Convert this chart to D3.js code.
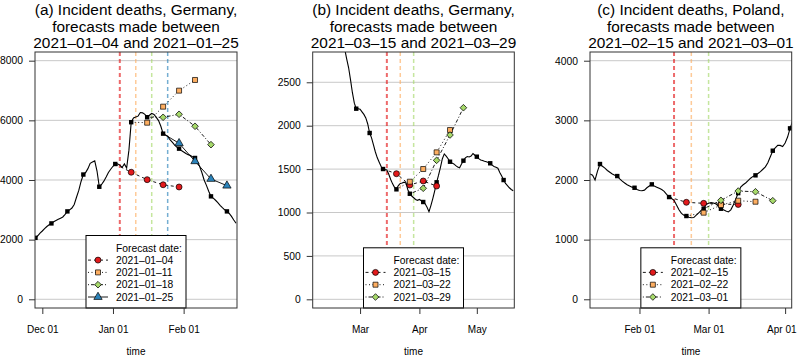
<!DOCTYPE html>
<html>
<head>
<meta charset="utf-8">
<script src="https://cdn.jsdelivr.net/npm/d3@7"></script>
<style>
  body { margin: 0; background: #fff; }
  svg { display: block; font-family: "Liberation Sans", Arial, sans-serif; }
</style>
</head>
<body>
<svg id="chart" width="798" height="356"></svg>
<script>
// ---- data ----
// observed incident deaths (weekly sums, daily resolution), one value per day from the start date

const startA = '2020-11-28';
const deathsA = [2060, 2130, 2220, 2290, 2370, 2440, 2500, 2544, 2600, 2640, 2680, 2720, 2760, 2850,
  2947, 3000, 3060, 3180, 3420, 3650, 3950, 4183, 4250, 4380, 4560, 4600, 4640, 4300,
  3773, 3850, 3960, 4100, 4250, 4360, 4460, 4536, 4540, 4500, 4420, 4540, 4400, 5000,
  5937, 6080, 6110, 6140, 6260, 6250, 6200, 6105, 6170, 6230, 6200, 6100, 5990, 5800,
  5554, 5510, 5470, 5350, 5270, 5180, 5100, 5050, 4990, 4940, 4890, 4850, 4820, 4770,
  4738, 4620, 4460, 4250, 4000, 3820, 3620, 3451, 3390, 3320, 3240, 3150, 3070, 3000,
  2947, 2880, 2780, 2660, 2550];
const forecastDatesA = ['2021-01-04', '2021-01-11', '2021-01-18', '2021-01-25'];
const fcA1 = [4260, 4010, 3840, 3765];
const fcA2 = [5921, 6458, 6995, 7353];
const fcA3 = [6102, 6203, 5801, 5184];
const fcA4 = [5231, 4627, 4034, 3809];

const startB = '2021-02-19';
const deathsB = [3150, 3060, 2880, 2770, 2670, 2530, 2380, 2260, 2196, 2196, 2190, 2160, 2130, 2090,
  2020, 1916, 1860, 1780, 1697, 1630, 1580, 1530, 1501, 1495, 1490, 1440, 1380, 1330,
  1290, 1267, 1310, 1335, 1340, 1350, 1340, 1260, 1216, 1190, 1170, 1150, 1140, 1150,
  1135, 1121, 1100, 1060, 1009, 1080, 1160, 1250, 1348, 1430, 1520, 1620, 1675, 1650,
  1620, 1585, 1570, 1560, 1540, 1525, 1515, 1560, 1597, 1630, 1645, 1640, 1650, 1680,
  1660, 1643, 1620, 1605, 1600, 1590, 1585, 1575, 1567, 1545, 1530, 1520, 1510, 1460,
  1420, 1374, 1335, 1310, 1285, 1265, 1250];
const forecastDatesB = ['2021-03-15', '2021-03-22', '2021-03-29'];
const fcB1 = [1447, 1317, 1363, 1305];
const fcB2 = [1355, 1501, 1693, 1950];
const fcB3 = [1279, 1601, 1893, 2207];

const startC = '2021-01-12';
const deathsC = [2100, 2080, 2000, 2150, 2268, 2230, 2200, 2160, 2130, 2100, 2080, 2066, 2020, 1980,
  1950, 1920, 1900, 1880, 1870, 1840, 1825, 1820, 1830, 1870, 1900, 1927, 1900, 1880,
  1860, 1840, 1810, 1760, 1714, 1690, 1660, 1580, 1500, 1440, 1410, 1396, 1375, 1368,
  1370, 1410, 1450, 1490, 1518, 1590, 1610, 1620, 1615, 1600, 1560, 1518, 1500, 1480,
  1465, 1500, 1580, 1680, 1780, 1880, 1920, 1950, 1990, 2030, 2060, 2078, 2110, 2140,
  2180, 2220, 2290, 2390, 2491, 2540, 2580, 2580, 2560, 2620, 2720, 2866, 2980];
const forecastDatesC = ['2021-02-15', '2021-02-22', '2021-03-01'];
const fcC1 = [1626, 1609, 1595, 1590];
const fcC2 = [1452, 1580, 1653, 1636];
const fcC3 = [1659, 1815, 1803, 1653];

const titlesA = ['(a) Incident deaths, Germany,', 'forecasts made between', '2021\u201301\u201304 and 2021\u201301\u201325'];
const titlesB = ['(b) Incident deaths, Germany,', 'forecasts made between', '2021\u201303\u201315 and 2021\u201303\u201329'];
const titlesC = ['(c) Incident deaths, Poland,', 'forecasts made between', '2021\u201302\u201315 and 2021\u201303\u201301'];

const yTicksA = [0, 2000, 4000, 6000, 8000];
const yTicksB = [0, 500, 1000, 1500, 2000, 2500];
const yTicksC = [0, 1000, 2000, 3000, 4000];
const xTicksA = ['2020-12-01', '2021-01-01', '2021-02-01'];
const xTicksB = ['2021-03-01', '2021-04-01', '2021-05-01'];
const xTicksC = ['2021-02-01', '2021-03-01', '2021-04-01'];

// ---- styling ----
// diamond = square turned 45 degrees (like R's pch 23)
const seriesStyle = [
  { color: '#e31a1c', shape: d3.symbolCircle, size: 28, rot: 0, dash: '3,3' },
  { color: '#fdae61', shape: d3.symbolSquare, size: 25, rot: 0, dash: '1,2.5' },
  { color: '#a6d96a', shape: d3.symbolSquare, size: 22, rot: 45, dash: '1,2,3.5,2' },
  { color: '#2b83ba', shape: d3.symbolTriangle, size: 30, rot: 0, dash: null }
];

const parse = d3.timeParse('%Y-%m-%d');
const plotTop = 52, plotBottom = 308;
const svgWidth = 798;

function series(start, values) {
  const s = parse(start);
  return values.map((v, i) => ({ date: d3.timeDay.offset(s, i), value: v }));
}

const panels = [
  { x0: 35, x1: 237, xDomain: [new Date(2020, 10, 27, 19), new Date(2021, 1, 24, 10)],
    yDomain: [-292, 8291], yTicks: yTicksA, xTicks: xTicksA, xFormat: '%b %d',
    obs: series(startA, deathsA), fDates: forecastDatesA, fc: [fcA1, fcA2, fcA3, fcA4], titles: titlesA },
  { x0: 312.7, x1: 514.3, xDomain: [new Date(2021, 1, 4, 6), new Date(2021, 4, 20, 14)],
    yDomain: [-100, 2849], yTicks: yTicksB, xTicks: xTicksB, xFormat: '%b',
    obs: series(startB, deathsB), fDates: forecastDatesB, fc: [fcB1, fcB2, fcB3], titles: titlesB },
  { x0: 590, x1: 791.7, xDomain: [new Date(2021, 0, 11, 23), new Date(2021, 3, 3, 16)],
    yDomain: [-146, 4146], yTicks: yTicksC, xTicks: xTicksC, xFormat: '%b %d',
    obs: series(startC, deathsC), fDates: forecastDatesC, fc: [fcC1, fcC2, fcC3], titles: titlesC }
];

const svg = d3.select('#chart');

panels.forEach((p, pi) => {
  const x = d3.scaleTime().domain(p.xDomain).range([p.x0, p.x1]);
  const y = d3.scaleLinear().domain(p.yDomain).range([plotBottom, plotTop]);
  const g = svg.append('g');
  const cx = (p.x0 + p.x1) / 2;

  const clipId = 'clip' + pi;
  g.append('clipPath').attr('id', clipId)
    .append('rect').attr('x', p.x0).attr('y', plotTop).attr('width', p.x1 - p.x0).attr('height', plotBottom - plotTop);

  // grid
  g.selectAll('.grid').data(p.yTicks).enter().append('line')
    .attr('x1', p.x0).attr('x2', p.x1)
    .attr('y1', d => y(d)).attr('y2', d => y(d))
    .attr('stroke', '#c8c8c8').attr('stroke-width', 1);

  // forecast date markers
  p.fDates.forEach((fd, i) => {
    const xx = x(parse(fd));
    g.append('line')
      .attr('x1', xx).attr('x2', xx).attr('y1', plotTop).attr('y2', plotBottom)
      .attr('stroke', seriesStyle[i].color).attr('stroke-opacity', 0.65)
      .attr('stroke-width', i === 0 ? 2 : 1.5)
      .attr('stroke-dasharray', '4,3');
  });

  const plot = g.append('g').attr('clip-path', `url(#${clipId})`);

  // observed
  plot.append('path').datum(p.obs)
    .attr('fill', 'none').attr('stroke', '#000').attr('stroke-width', 1.1)
    .attr('d', d3.line().x(d => x(d.date)).y(d => y(d.value)));

  const saturdays = p.obs.filter(d => d.date.getDay() === 6);
  plot.selectAll('.obs').data(saturdays).enter().append('rect')
    .attr('x', d => x(d.date) - 2.2).attr('y', d => y(d.value) - 2.2)
    .attr('width', 4.4).attr('height', 4.4).attr('fill', '#000');

  // forecasts
  p.fc.forEach((vals, i) => {
    const fd = parse(p.fDates[i]);
    const originDate = d3.timeDay.offset(fd, -2);
    const origin = p.obs.find(d => +d.date === +originDate);
    const pts = vals.map((v, k) => ({ date: d3.timeDay.offset(fd, 5 + 7 * k), value: v }));
    const st = seriesStyle[i];
    plot.append('path').datum([origin].concat(pts))
      .attr('fill', 'none').attr('stroke', '#000').attr('stroke-width', 0.9)
      .attr('stroke-dasharray', st.dash)
      .attr('d', d3.line().x(d => x(d.date)).y(d => y(d.value)));
    plot.selectAll('.f' + i).data(pts).enter().append('path')
      .attr('transform', d => `translate(${x(d.date)},${y(d.value)}) rotate(${st.rot})`)
      .attr('d', d3.symbol().type(st.shape).size(st.size))
      .attr('fill', st.color).attr('stroke', '#000').attr('stroke-width', 0.7);
  });

  // legend
  const n = p.fc.length;
  const lh = 12.3;
  const lw = 100;
  const lx = cx - lw / 2;
  const ly = plotBottom - (lh * (n + 1) + 11);
  const leg = g.append('g');
  leg.append('rect').attr('x', lx).attr('y', ly).attr('width', lw).attr('height', plotBottom - ly)
    .attr('fill', '#fff').attr('stroke', '#000').attr('stroke-width', 1);
  leg.append('text').attr('x', lx + 30).attr('y', ly + lh + 3.7)
    .attr('font-size', 10.3).text('Forecast date:');
  p.fDates.forEach((fd, i) => {
    const ry = ly + lh * (i + 2);
    const st = seriesStyle[i];
    leg.append('line').attr('x1', lx + 2).attr('x2', lx + 22).attr('y1', ry).attr('y2', ry)
      .attr('stroke', '#000').attr('stroke-width', 0.9).attr('stroke-dasharray', st.dash);
    leg.append('path').attr('transform', `translate(${lx + 12},${ry}) rotate(${st.rot})`)
      .attr('d', d3.symbol().type(st.shape).size(st.size))
      .attr('fill', st.color).attr('stroke', '#000').attr('stroke-width', 0.7);
    leg.append('text').attr('x', lx + 30).attr('y', ry + 3.7)
      .attr('font-size', 10.3).text(fd.replace(/-/g, '\u2013'));
  });

  // box
  g.append('rect').attr('x', p.x0).attr('y', plotTop).attr('width', p.x1 - p.x0).attr('height', plotBottom - plotTop)
    .attr('fill', 'none').attr('stroke', '#333').attr('stroke-width', 1);

  // y axis
  const yAxis = g.append('g').attr('transform', `translate(${p.x0},0)`)
    .call(d3.axisLeft(y).tickValues(p.yTicks).tickSize(6).tickPadding(6).tickFormat(d3.format('d')));
  yAxis.select('.domain').remove();
  yAxis.selectAll('line').attr('stroke', '#333');
  yAxis.selectAll('text').attr('font-size', 10.3).attr('font-family', '"Liberation Sans", Arial, sans-serif');

  // x axis
  const xAxis = g.append('g').attr('transform', `translate(0,${plotBottom})`)
    .call(d3.axisBottom(x).tickValues(p.xTicks.map(parse)).tickSize(6).tickPadding(12)
      .tickFormat(d3.timeFormat(p.xFormat)));
  xAxis.select('.domain').remove();
  xAxis.selectAll('line').attr('stroke', '#333');
  xAxis.selectAll('text').attr('font-size', 10).attr('font-family', '"Liberation Sans", Arial, sans-serif')
    .each(function() {
      // keep the last label inside the picture
      const b = this.getBBox();
      const tx = +d3.select(this.parentNode).attr('transform').match(/translate\(([-\d.]+)/)[1];
      const over = tx + b.x + b.width - (svgWidth - 1);
      if (over > 0) d3.select(this).attr('x', -over);
    });

  g.append('text').attr('x', cx).attr('y', 354.5).attr('text-anchor', 'middle')
    .attr('font-size', 10).text('time');

  // title
  p.titles.forEach((t, i) => {
    g.append('text').attr('x', cx).attr('y', 15 + 16.7 * i).attr('text-anchor', 'middle')
      .attr('font-size', 15.4).text(t);
  });
});
</script>
</body>
</html>
